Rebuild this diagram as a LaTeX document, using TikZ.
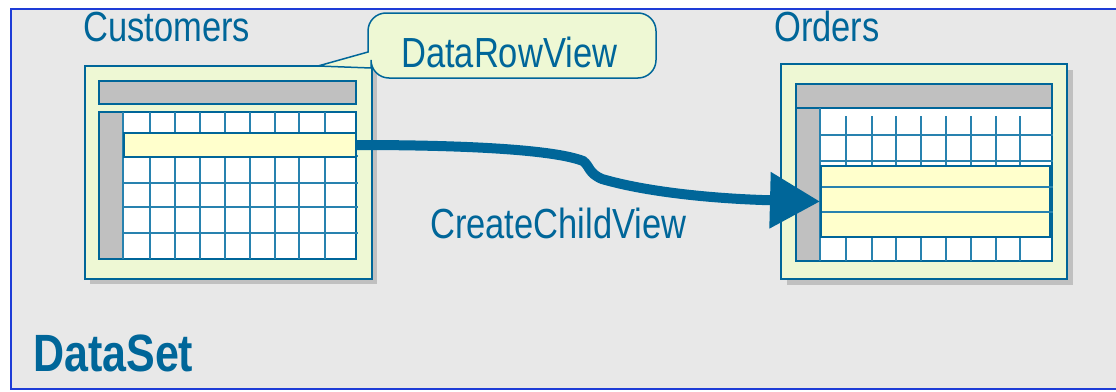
\documentclass[tikz,border=0pt]{standalone}
\usepackage{fontspec}
\setmainfont{Liberation Sans}
\usetikzlibrary{arrows.meta}
\definecolor{dsblue}{RGB}{0,102,153}
\definecolor{gridblue}{RGB}{40,130,175}
\definecolor{framefill}{RGB}{238,248,212}
\definecolor{rowfill}{RGB}{255,255,204}
\definecolor{bargrey}{RGB}{192,192,192}
\definecolor{panel}{RGB}{232,232,232}
\definecolor{edgeblue}{RGB}{30,60,215}
\tikzset{
  tableframe/.style={draw=dsblue, line width=2pt, fill=framefill},
  tableshadow/.style={fill=bargrey, draw=none},
  greybar/.style={draw=dsblue, line width=1.3pt, fill=bargrey},
  cellarea/.style={draw=dsblue, line width=1.3pt, fill=white},
  gridline/.style={draw=gridblue, line width=1.3pt},
  selrow/.style={draw=dsblue, line width=2pt, fill=rowfill, inner sep=0pt, anchor=north west},
  txt/.style={inner sep=0pt, anchor=base west, text=dsblue},
  bigarrow/.style={draw=dsblue, line width=10pt, -{Triangle[length=50pt,width=54pt]}},
  calloutbox/.style={draw=dsblue, line width=1.5pt, fill=framefill}
}
\newcommand{\tall}[1]{\scalebox{1}[1.22]{#1}}
\begin{document}
\begin{tikzpicture}[x=1pt,y=-1pt]
\useasboundingbox (0,0) rectangle (1116,391);
% panel
\fill[white] (0,0) rectangle (1116,391);
\fill[panel] (11,9) rectangle (1130,389);
\draw[edgeblue, line width=2pt] (11,9) rectangle (1130,389);

% ---- Customers table ----
\fill[tableshadow] (90,71) rectangle (377,284);
\path[tableframe] (85,66) rectangle (372,279);
\path[greybar] (99,81) rectangle (356,104);
\path[cellarea] (99,112) rectangle (356,259);
\path[fill=bargrey] (99.6,112.6) rectangle (123,258.4);
\draw[gridline] (123,112) -- (123,259);
\foreach \y in {156,183,207,233} \draw[gridline] (123,\y) -- (358,\y);
\foreach \x in {150,175,200,225,250,275,299,325} \draw[gridline] (\x,112) -- (\x,259);
\node[selrow, minimum width=232pt, minimum height=24pt] (custrow) at (123,132) {};

% ---- Orders table ----
\fill[tableshadow] (787,70) rectangle (1073,285);
\path[tableframe] (781,64) rectangle (1067,279);
\path[greybar] (796,84) rectangle (1052,108);
\path[cellarea] (796,108) rectangle (1052,261);
\path[fill=bargrey] (796.6,108.6) rectangle (820,260.4);
\draw[gridline] (820,108) -- (820,261);
\foreach \y in {135,161} \draw[gridline] (820,\y) -- (1053,\y);
\foreach \x in {846,872,896,921,946,971,996,1020} {
  \draw[gridline] (\x,116) -- (\x,165);
  \draw[gridline] (\x,236) -- (\x,261);
}
\node[selrow, minimum width=229pt, minimum height=71pt] (ordrows) at (820,165) {};
\foreach \y in {187,212} \draw[gridline] (822,\y) -- (1053,\y);

% ---- callout ----
\path[calloutbox] (318,66) -- (368,52)
  {[rounded corners=18pt] -- (368,13) -- (656,13) -- (656,78) -- (371,78)}
  -- (371,68) -- cycle;
\node[txt] (drv) at (401,67) {\fontsize{34.5}{40}\selectfont\tall{DataRowView}};

% ---- labels ----
\node[txt] (cust) at (83,41) {\fontsize{34.5}{40}\selectfont\tall{Customers}};
\node[txt] (ord) at (774,41) {\fontsize{34.5}{40}\selectfont\tall{Orders}};
\node[txt] (ccv) at (430,238) {\fontsize{34.5}{40}\selectfont\tall{CreateChildView}};
\node[txt] (ds) at (33,371) {\fontsize{43}{48}\selectfont\bfseries\tall{DataSet}};

% ---- relation arrow ----
\draw[bigarrow] (custrow.east)
  .. controls (470,145) and (555,150) .. (583,161)
  .. controls (590,166) and (588,173) .. (602,179)
  .. controls (650,193) and (720,199) .. (ordrows.west);
\end{tikzpicture}
\end{document}
